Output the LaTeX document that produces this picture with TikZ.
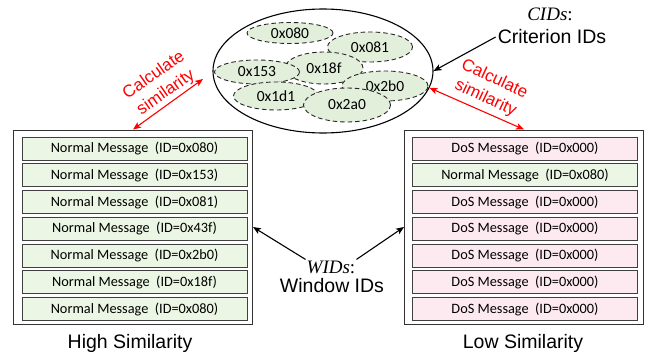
\documentclass[tikz,border=0pt]{standalone}
\usepackage{fontspec}
\usepackage{xcolor}
\setmainfont{Liberation Sans}
\newfontfamily\calibri{Carlito}
\newfontfamily\serifit{Liberation Serif}
\usetikzlibrary{arrows.meta,shapes,positioning}

\definecolor{msggreen}{RGB}{236,246,228}
\definecolor{idgreen}{RGB}{226,239,218}
\definecolor{dospink}{RGB}{253,234,241}

\begin{document}
\begin{tikzpicture}[x=1pt,y=-1pt]
\useasboundingbox (0,0) rectangle (648,356);

\tikzset{msg/.style={draw=black!75, line width=0.9pt, minimum width=225pt, minimum height=23pt, inner sep=0pt, font=\calibri\fontsize{14.3}{15}\selectfont},
normal/.style={msg, fill=msggreen},
dos/.style={msg, fill=dospink},
window/.style={draw=black!80, line width=1pt, minimum width=239pt, minimum height=194pt, inner sep=0pt},
canid/.style={ellipse, draw=black!85, dash pattern=on 4.5pt off 3pt, line width=0.9pt, fill=idgreen, inner sep=0pt, font=\calibri\fontsize{15.5}{16}\selectfont},
caption/.style={font=\fontsize{19.5}{20}\selectfont},
idsname/.style={font=\serifit\fontsize{19}{20}\selectfont, inner sep=1pt},
pointer/.style={-{Stealth[length=8pt,width=6.5pt,inset=2pt]}, line width=1.1pt},
simarrow/.style={{Stealth[length=8pt,width=6.5pt,inset=2pt]}-{Stealth[length=8pt,width=6.5pt,inset=2pt]}, line width=1.1pt, red},
simtext/.style={red, align=center, font=\fontsize{17}{21}\selectfont}}

%the two windows of messages
\node[window] (lbox) at (133,227) {};
\node[window] (rbox) at (524,227) {};

\foreach \i/\id in {1/080, 2/153, 3/081, 4/43f, 5/2b0, 6/18f, 7/080}
  \node[normal] (l\i) at (134.5,{148.5+(\i-1)*26.75}) {Normal Message\ \ (ID=0x\id)};

\foreach \i/\kind/\txt/\id in {1/dos/DoS/000, 2/normal/Normal/080, 3/dos/DoS/000, 4/dos/DoS/000, 5/dos/DoS/000, 6/dos/DoS/000, 7/dos/DoS/000}
  \node[\kind] (r\i) at (525,{148.5+(\i-1)*26.75}) {\txt{} Message\ \ (ID=0x\id)};

\node[caption] (lcap) at (130,343) {High Similarity};
\node[caption] (rcap) at (523,343) {Low Similarity};

%set of criterion IDs
\node[ellipse, draw, line width=1.1pt, minimum width=220pt, minimum height=124pt] (cid) at (323,71) {};

\foreach \n/\x/\y/\w/\h in {080/290/33/86/21, 081/370/47/85/30, 18f/324/68/78/32, 153/257/72/85/24, 2b0/385/86/86/30, 1d1/276/96/85/28, 2a0/347/105/87/34}
  \node[canid, minimum width=\w pt, minimum height=\h pt] (id\n) at (\x,\y) {0x\n};

%labels and arrows
\node[idsname] (cidmath) at (550,14) {\itshape CIDs\upshape :};
\node[caption, inner sep=2pt] (cidname) at (552,37) {Criterion IDs};
\draw[pointer] (cidname.west) -- (cid.east);

\node[idsname] (widmath) at (331,267) {\itshape WIDs\upshape :};
\node[caption, inner sep=2pt] (widname) at (332,286) {Window IDs};
\draw[pointer] (widmath.north west) -- (lbox.east);
\draw[pointer] (widmath.north east) -- (rbox.west);

\coordinate (lsim) at (203,79);
\draw[simarrow] (lbox.north) -- (lsim);
\draw[simarrow] (rbox.north) -- (cid.-9);
\node[simtext, rotate=35] (lsimtxt) at (160,84) {Calculate\\similarity};
\node[simtext, rotate=-25] (rsimtxt) at (490,89) {Calculate\\similarity};

\end{tikzpicture}
\end{document}
